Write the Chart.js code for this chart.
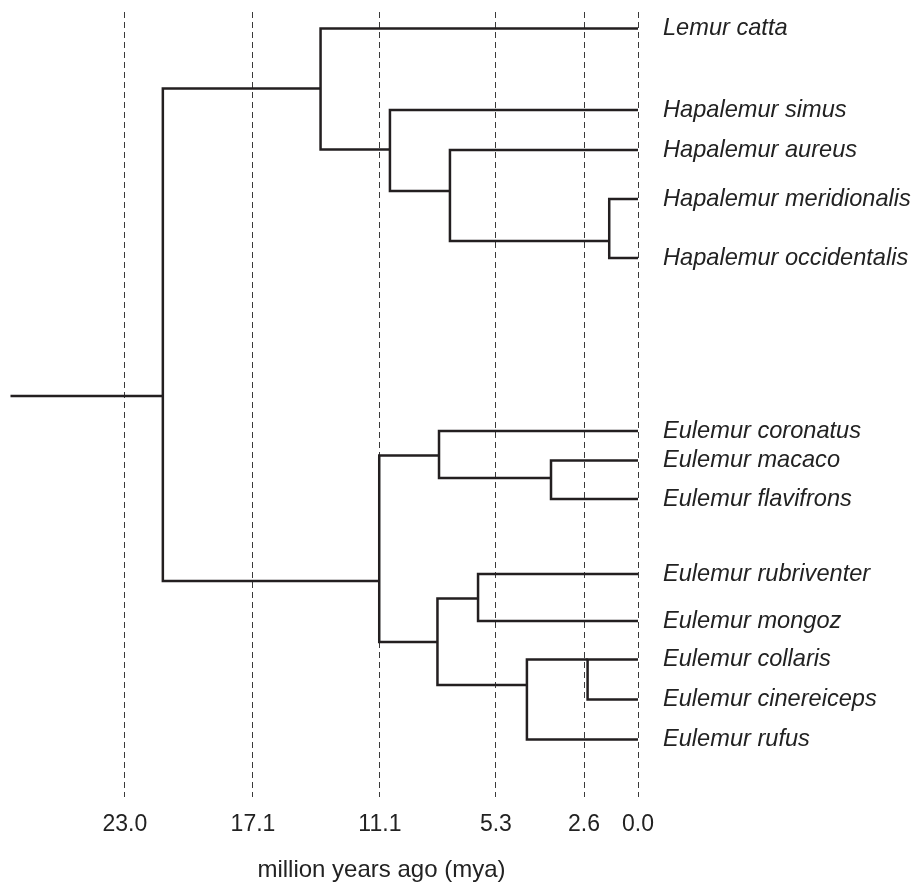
<!DOCTYPE html>
<html>
<head>
<meta charset="utf-8">
<title>Lemurid tree</title>
<script src="https://cdn.jsdelivr.net/npm/chart.js@4.4.1/dist/chart.umd.min.js"></script>
<style>
  html, body { margin: 0; padding: 0; background: #fff; }
  canvas { display: block; }
</style>
</head>
<body>
<canvas id="arbol" width="916" height="883"></canvas>
<script>
// hojas (tips), de arriba a abajo; fila = posicion vertical
var leafNames = [
    "Lemur catta", "Hapalemur simus", "Hapalemur aureus", "Hapalemur meridionalis",
    "Hapalemur occidentalis", "Eulemur coronatus", "Eulemur macaco", "Eulemur flavifrons",
    "Eulemur rubriventer", "Eulemur mongoz", "Eulemur collaris", "Eulemur cinereiceps",
    "Eulemur rufus"
];
var leafRows = [28.5, 110, 150, 199, 258, 431, 460.5, 499, 574, 621, 659.5, 699.5, 739.5];

// nodos internos: edad (escala del eje), fila donde se une al padre, hijos
var nodeAges = [21.3, 14.23, 11.12, 8.43, 1.29, 11.6, 8.92, 3.9, 8.99, 7.17, 4.98, 2.26];
var nodeRows = [396, 88.5, 149.5, 191, 241, 581, 455.5, 478, 642, 598.5, 685, 659.5];
var nodeChildren = [
    ["N1", "N5"], ["L0", "N2"], ["L1", "N3"], ["L2", "N4"], ["L3", "L4"],
    ["N6", "N8"], ["L5", "N7"], ["L6", "L7"], ["N9", "N10"], ["L8", "L9"],
    ["N11", "L12"], ["L10", "L11"]
];
var stemAge = 28.13;

// marcas del eje x (posicion en la escala y texto que se muestra)
var tickPositions = [23.0, 17.26, 11.57, 6.37, 2.42, 0];
var tickLabels = ["23.0", "17.1", "11.1", "5.3", "2.6", "0.0"];
var axisTitle = "million years ago (mya)";

var colorLinea = "#231f20";
var fuente = "'Liberation Sans', Arial, sans-serif";

function punto(id) {
    var i = parseInt(id.substring(1));
    if (id[0] === "L") return { x: 0, y: leafRows[i] };
    return { x: nodeAges[i], y: nodeRows[i] };
}

var datasets = [];
// tallo de la raiz
datasets.push({ data: [{ x: stemAge, y: nodeRows[0] }, { x: nodeAges[0], y: nodeRows[0] }] });
for (var i = 0; i < nodeAges.length; i++) {
    var a = punto(nodeChildren[i][0]);
    var b = punto(nodeChildren[i][1]);
    datasets.push({
        data: [
            { x: a.x, y: a.y },
            { x: nodeAges[i], y: a.y },
            { x: nodeAges[i], y: b.y },
            { x: b.x, y: b.y }
        ]
    });
}
datasets.forEach(function (d) {
    d.showLine = true;
    d.borderColor = colorLinea;
    d.borderWidth = 2.5;
    d.pointRadius = 0;
    d.fill = false;
    d.tension = 0;
});

var tituloEje = {
    id: "tituloEje",
    afterDraw: function (chart) {
        var x = chart.scales.x;
        var ctx = chart.ctx;
        var centro = (x.getPixelForValue(tickPositions[0]) + x.getPixelForValue(tickPositions[tickPositions.length - 1])) / 2;
        ctx.save();
        ctx.font = "24px " + fuente;
        ctx.fillStyle = "#222";
        ctx.textAlign = "center";
        ctx.textBaseline = "alphabetic";
        ctx.fillText(axisTitle, centro, 877);
        ctx.restore();
    }
};

// sin relleno extra de las etiquetas en los extremos
function sinRelleno(scale) {
    scale.paddingTop = 0;
    scale.paddingBottom = 0;
    scale.paddingLeft = 0;
    scale.paddingRight = 0;
}

new Chart(document.getElementById("arbol"), {
    type: "scatter",
    data: { datasets: datasets },
    options: {
        responsive: false,
        animation: false,
        layout: { padding: { top: 12, left: 0, right: 0, bottom: 0 } },
        plugins: { legend: { display: false }, tooltip: { enabled: false } },
        scales: {
            x: {
                type: "linear",
                position: "bottom",
                reverse: true,
                min: 0,
                max: 28.6,
                afterBuildTicks: function (scale) {
                    scale.ticks = tickPositions.map(function (v) { return { value: v }; });
                },
                afterFit: function (scale) { scale.height = 86; sinRelleno(scale); },
                grid: { color: "#3a3a3a", lineWidth: 1, drawTicks: false },
                border: { display: false, dash: [6, 4] },
                ticks: {
                    autoSkip: false,
                    maxRotation: 0,
                    padding: 14,
                    color: "#222",
                    font: { family: fuente, size: 23 },
                    callback: function (v, idx) { return tickLabels[idx]; }
                }
            },
            y: {
                type: "linear",
                position: "right",
                reverse: true,
                min: 12,
                max: 797,
                afterBuildTicks: function (scale) {
                    scale.ticks = leafRows.map(function (v) { return { value: v }; });
                },
                afterFit: function (scale) { scale.width = 278; sinRelleno(scale); },
                grid: { display: false, drawTicks: false },
                border: { display: false },
                ticks: {
                    autoSkip: false,
                    padding: 25,
                    color: "#222",
                    font: { family: fuente, size: 23.6, style: "italic" },
                    callback: function (v, idx) { return leafNames[idx]; }
                }
            }
        }
    },
    plugins: [tituloEje]
});
</script>
</body>
</html>
